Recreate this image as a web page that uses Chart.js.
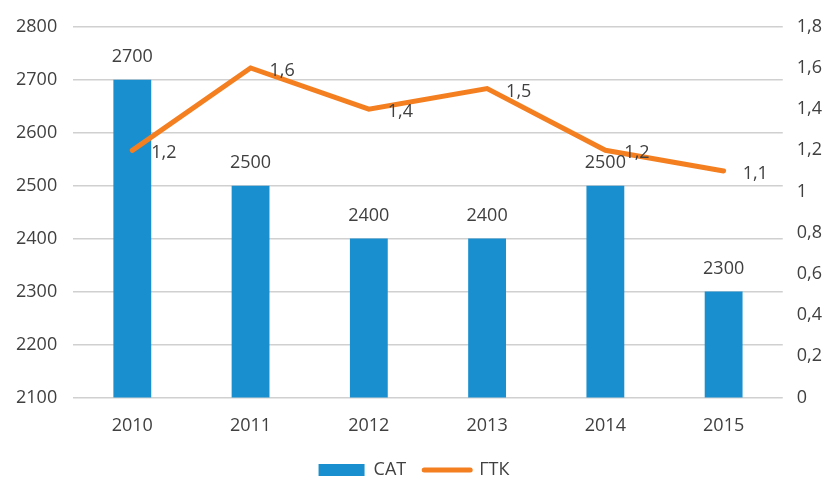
<!DOCTYPE html>
<html>
<head>
<meta charset="utf-8">
<script src="https://cdn.jsdelivr.net/npm/chart.js@4.4.1/dist/chart.umd.min.js"></script>
<style>
  html, body { margin: 0; padding: 0; background: #fff; overflow: hidden; }
  canvas { display: block; }
</style>
</head>
<body>
<canvas id="myChart" width="830" height="477"></canvas>
<script>
let labels = ['2010', '2011', '2012', '2013', '2014', '2015']
let satValues = [2700, 2500, 2400, 2400, 2500, 2300]
let gtkValues = [1.2, 1.6, 1.4, 1.5, 1.2, 1.1]

const fmtComma = (v) => String(Math.round(v * 10) / 10).replace('.', ',')
const textColor = '#404040'
const fontFamily = 'Open Sans'

// draws the value labels next to bars and points
const valueLabels = {
    id: 'valueLabels',
    afterDatasetsDraw(chart) {
        const ctx = chart.ctx
        ctx.save()
        ctx.font = '18px "Open Sans"'
        ctx.fillStyle = textColor
        chart.data.datasets.forEach((ds, i) => {
            const meta = chart.getDatasetMeta(i)
            meta.data.forEach((el, j) => {
                if (ds.type === 'bar') {
                    ctx.textAlign = 'center'
                    ctx.textBaseline = 'middle'
                    ctx.fillText(String(ds.data[j]), el.x, el.y - 23)
                } else {
                    ctx.textAlign = 'left'
                    ctx.textBaseline = 'middle'
                    ctx.fillText(fmtComma(ds.data[j]), el.x + 19, el.y + 3)
                }
            })
        })
        ctx.restore()
    }
}

const ctx = document.getElementById('myChart').getContext('2d')
const myChart = new Chart(ctx, {
    data: {
        labels: labels,
        datasets: [{
            type: 'bar',
            label: 'САТ',
            data: satValues,
            backgroundColor: '#1a8fcf',
            yAxisID: 'y',
            barPercentage: 0.32,
            categoryPercentage: 1,
            order: 2
        }, {
            type: 'line',
            label: 'ГТК',
            data: gtkValues,
            borderColor: '#f47f20',
            backgroundColor: '#f47f20',
            borderWidth: 5,
            borderCapStyle: 'round',
            pointRadius: 0,
            fill: false,
            tension: 0,
            yAxisID: 'y1',
            order: 1
        }]
    },
    options: {
        responsive: false,
        animation: false,
        layout: { padding: { top: 0, left: 0, right: 2, bottom: -12 } },
        plugins: {
            legend: {
                position: 'bottom',
                labels: {
                    usePointStyle: true,
                    pointStyleWidth: 46,
                    boxHeight: 12,
                    padding: 18,
                    color: textColor,
                    font: { family: fontFamily, size: 18 },
                    generateLabels(chart) {
                        return chart.data.datasets.map((ds, i) => ({
                            text: ds.label,
                            fillStyle: ds.type === 'bar' ? ds.backgroundColor : ds.borderColor,
                            strokeStyle: ds.type === 'bar' ? ds.backgroundColor : ds.borderColor,
                            lineWidth: ds.type === 'bar' ? 0 : 5,
                            pointStyle: ds.type === 'bar' ? 'rect' : 'line',
                            lineCap: 'round',
                            fontColor: textColor,
                            datasetIndex: i
                        }))
                    }
                }
            },
            tooltip: { enabled: false }
        },
        scales: {
            x: {
                grid: { display: false },
                border: { display: false },
                ticks: { color: textColor, font: { family: fontFamily, size: 18 }, padding: 10 },
                afterFit: (scale) => { scale.height -= 4 }
            },
            y: {
                position: 'left',
                min: 2100,
                max: 2800,
                ticks: { stepSize: 100, color: textColor, font: { family: fontFamily, size: 18 }, padding: 16,
                    callback: (v) => String(v) },
                grid: { color: '#d0d0d0', lineWidth: 1.5, drawTicks: false },
                border: { display: false }
            },
            y1: {
                position: 'right',
                min: 0,
                max: 1.8,
                ticks: { stepSize: 0.2, color: textColor, font: { family: fontFamily, size: 18 }, padding: 6,
                    callback: (v) => fmtComma(v) },
                grid: { display: false },
                border: { display: false }
            }
        }
    },
    plugins: [valueLabels]
})
</script>
</body>
</html>
